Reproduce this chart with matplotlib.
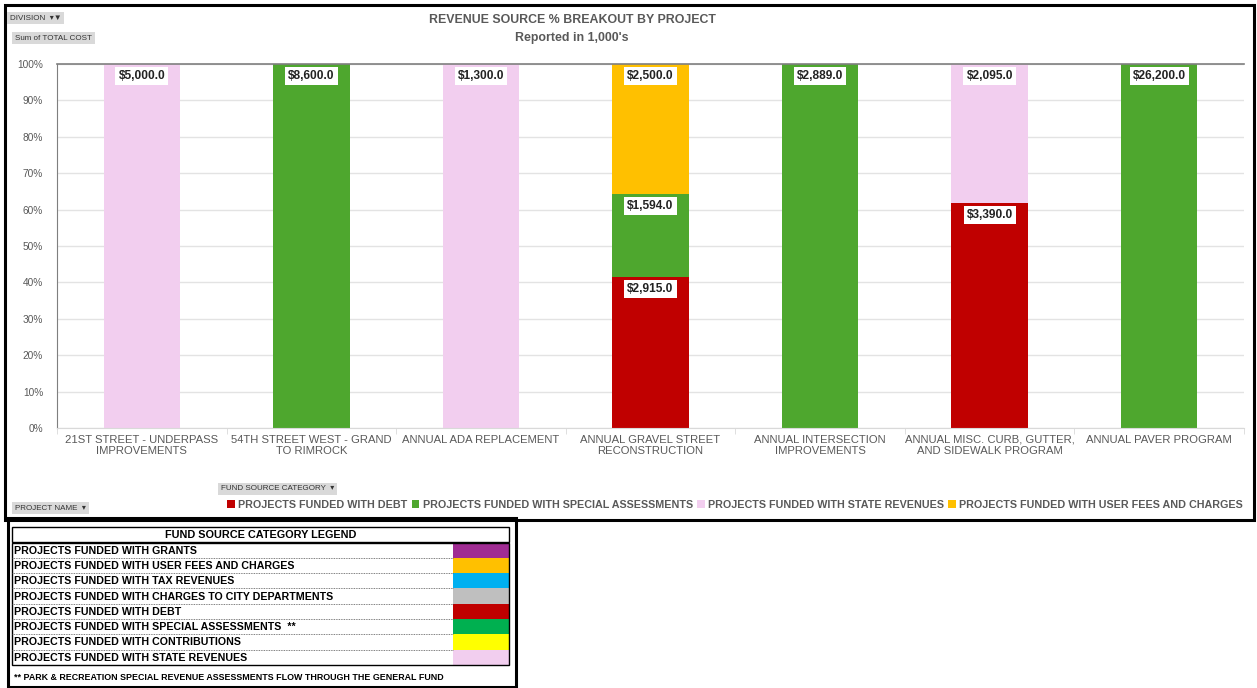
import numpy as np
import matplotlib.pyplot as plt
from matplotlib.patches import Rectangle
from matplotlib.ticker import PercentFormatter

plt.rcParams['font.family'] = ['Liberation Sans', 'DejaVu Sans']

# data (in $1,000's)
projects = ['21ST STREET - UNDERPASS\nIMPROVEMENTS', '54TH STREET WEST - GRAND\nTO RIMROCK',
            'ANNUAL ADA REPLACEMENT', 'ANNUAL GRAVEL STREET\nRECONSTRUCTION',
            'ANNUAL INTERSECTION\nIMPROVEMENTS', 'ANNUAL MISC. CURB, GUTTER,\nAND SIDEWALK PROGRAM',
            'ANNUAL PAVER PROGRAM']
debt = [0, 0, 0, 2915.0, 0, 3390.0, 0]
special = [0, 8600.0, 0, 1594.0, 2889.0, 0, 26200.0]
state = [5000.0, 0, 1300.0, 0, 0, 2095.0, 0]
user_fees = [0, 0, 0, 2500.0, 0, 0, 0]

series_names = ['PROJECTS FUNDED WITH DEBT', 'PROJECTS FUNDED WITH SPECIAL ASSESSMENTS',
                'PROJECTS FUNDED WITH STATE REVENUES', 'PROJECTS FUNDED WITH USER FEES AND CHARGES']
series_colors = ['#C00000', '#4EA72E', '#F2CEEF', '#FFC000']

legend_rows = ['PROJECTS FUNDED WITH GRANTS', 'PROJECTS FUNDED WITH USER FEES AND CHARGES',
               'PROJECTS FUNDED WITH TAX REVENUES', 'PROJECTS FUNDED WITH CHARGES TO CITY DEPARTMENTS',
               'PROJECTS FUNDED WITH DEBT', 'PROJECTS FUNDED WITH SPECIAL ASSESSMENTS  **',
               'PROJECTS FUNDED WITH CONTRIBUTIONS', 'PROJECTS FUNDED WITH STATE REVENUES']
legend_colors = ['#A02B93', '#FFC000', '#00B0F0', '#BFBFBF', '#C00000', '#00B050', '#FFFF00', '#F2CEEF']

W, H = 1257, 688
fig = plt.figure(figsize=(W / 100, H / 100), dpi=100)


def px_axes(left, top, right, bottom):
    return fig.add_axes([left / W, 1 - bottom / H, (right - left) / W, (bottom - top) / H])


ax = px_axes(57, 64, 1244, 428)
values = np.array([debt, special, state, user_fees])
totals = values.sum(axis=0)
pct = values / totals * 100
x = np.arange(len(projects))
bottom = np.zeros(len(projects))
for i in range(len(series_names)):
    ax.bar(x, pct[i], 0.45, bottom=bottom, color=series_colors[i], label=series_names[i], zorder=2)
    for j in range(len(projects)):
        if values[i, j] > 0:
            ax.annotate(f'${values[i, j]:,.1f}', (x[j], bottom[j] + pct[i, j]), xytext=(0, -12),
                        textcoords='offset pixels', ha='center', va='center', fontsize=8.6,
                        fontweight='bold', color='#222222', zorder=3,
                        bbox=dict(boxstyle='square,pad=0.25', fc='white', ec='none'))
    bottom += pct[i]

ax.set_xlim(-0.5, len(projects) - 0.5)
ax.set_ylim(0, 100)
ax.set_yticks(range(0, 101, 10))
ax.yaxis.set_major_formatter(PercentFormatter(decimals=0))
ax.set_xticks(x)
ax.set_xticklabels(projects, fontsize=8.1, color='#595959', linespacing=1.1)
ax.set_xticks(np.arange(-0.5, len(projects)), minor=True)
ax.tick_params(axis='x', which='major', length=0, pad=5)
ax.tick_params(axis='x', which='minor', length=4, color='#D9D9D9')
ax.tick_params(axis='y', length=0, labelsize=7.3, labelcolor='#595959', pad=10)
ax.grid(axis='y', color='#E3E3E3', linewidth=1, zorder=0)
ax.spines['right'].set_visible(False)
ax.spines['bottom'].set_color('#D9D9D9')
ax.spines['left'].set_color('#7F7F7F')
ax.spines['top'].set_color('#7F7F7F')
ax.spines['top'].set_linewidth(1.2)

fig.legend(loc='center', bbox_to_anchor=(735 / W, 1 - 505 / H), ncol=4, frameon=False,
           handlelength=0.7, handleheight=0.7, handletextpad=0.3, columnspacing=0.4,
           prop={'size': 7.75, 'weight': 'bold'}, labelcolor='#595959')

# overlay in pixel coordinates for frames, titles, buttons and legend table
ov2 = fig.add_axes([0, 0, 1, 1], zorder=5)
ov2.set_xlim(0, W)
ov2.set_ylim(H, 0)
ov2.axis('off')
ov2.patch.set_alpha(0)

ov2.add_patch(Rectangle((5, 5), 1249, 515, fill=False, ec='black', lw=2.2))
ov2.text(572, 20, 'REVENUE SOURCE % BREAKOUT BY PROJECT', ha='center', va='center',
         fontsize=8.9, fontweight='bold', color='#595959')
ov2.text(572, 38, "Reported in 1,000's", ha='center', va='center',
         fontsize=8.9, fontweight='bold', color='#595959')

buttons = [(10, 18, 'DIVISION  \u25be\u25bc'), (15, 38, 'Sum of TOTAL COST'),
           (221, 489, 'FUND SOURCE CATEGORY  \u25be'), (15, 508, 'PROJECT NAME  \u25be')]
for bx, by, btxt in buttons:
    ov2.text(bx, by, btxt, ha='left', va='center', fontsize=5.8, color='#333333',
             bbox=dict(boxstyle='square,pad=0.35', fc='#D9D9D9', ec='none'))

# fund source category legend table
ov2.add_patch(Rectangle((8, 518), 508, 169, fill=False, ec='black', lw=2.2))
left, right, sw = 12, 509, 453
ov2.add_patch(Rectangle((left, 527), right - left, 15, fill=False, ec='black', lw=1))
ov2.text((left + right) / 2, 534.5, 'FUND SOURCE CATEGORY LEGEND', ha='center', va='center',
         fontsize=7.8, fontweight='bold')
row_h = 15.3
top = 542.5
for k, (lab, col) in enumerate(zip(legend_rows, legend_colors)):
    y0 = top + k * row_h
    ov2.add_patch(Rectangle((sw, y0), right - sw, row_h, fc=col, ec='none'))
    ov2.text(left + 2, y0 + row_h / 2 + 0.5, lab, ha='left', va='center', fontsize=7.7, fontweight='bold')
    if k > 0:
        ov2.plot([left, sw], [y0, y0], color='#555555', lw=0.6, ls=(0, (1, 1)))
ov2.add_patch(Rectangle((left, top), right - left, row_h * 8, fill=False, ec='black', lw=1))
ov2.text(left + 2, 677, '** PARK & RECREATION SPECIAL REVENUE ASSESSMENTS FLOW THROUGH THE GENERAL FUND',
         ha='left', va='center', fontsize=6.4, fontweight='bold')

fig.savefig('out.png', dpi=100)
